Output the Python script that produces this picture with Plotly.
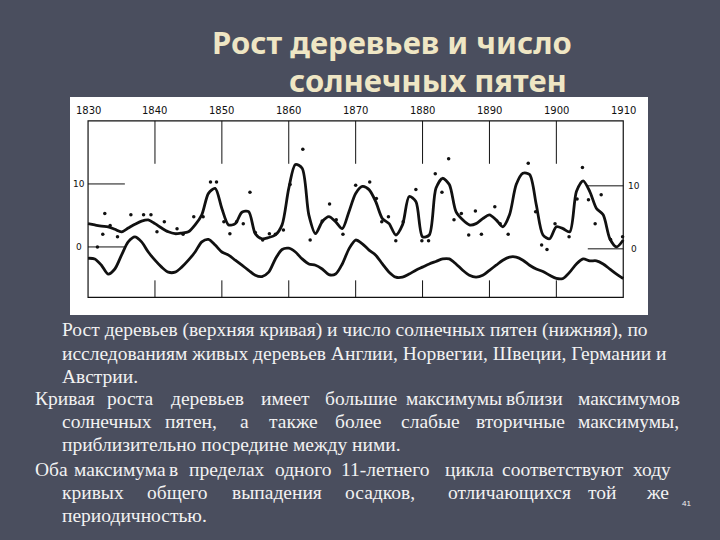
import plotly.graph_objects as go

# tree growth curve (upper) and sunspot curve (lower), yearly readings
years = list(range(1830, 1911))
growth = [3.7, 3.5, 3.3, 3.2, 2.8, 2.4, 3.0, 3.6, 4.1, 4.3, 3.7, 3.0, 2.4, 2.1, 2.2, 2.4,
          3.5, 5.1, 8.5, 9.3, 6.1, 3.5, 3.7, 5.5, 5.6, 2.1, 1.3, 1.5, 1.9, 3.5,
          9.3, 13.1, 12.5, 5.1, 2.1, 4.0, 4.8, 4.0, 2.9, 5.6,
          8.5, 9.6, 9.1, 7.2, 4.5, 3.7, 1.9, 3.5, 8.0, 7.2,
          1.6, 1.9, 9.3, 10.9, 9.9, 5.6, 4.3, 3.5, 3.7, 4.5,
          5.1, 4.3, 3.2, 5.1, 9.9, 11.7, 11.5, 6.7, 1.9, 1.3,
          3.2, 2.9, 2.4, 8.8, 10.5, 8.8, 6.1, 5.1, 1.3, 0.0, 1.1]
sunspots = [-1.8, -1.9, -2.9, -4.3, -3.5, -1.3, 0.8, 1.6, 0.8, -0.8,
            -2.1, -3.2, -4.0, -4.0, -3.2, -2.1, -0.8, 0.8, 1.2, 0.3,
            -0.8, -1.3, -2.1, -2.9, -3.7, -4.5, -4.7, -4.0, -1.9, -0.4,
            -0.2, -0.8, -1.9, -2.7, -2.9, -3.5, -4.4, -4.3, -2.7, -0.3,
            1.1, 0.5, -0.5, -1.3, -2.7, -4.0, -4.8, -4.8, -4.3, -3.7,
            -3.2, -2.7, -2.3, -1.9, -1.9, -2.7, -3.7, -4.5, -4.8, -4.5,
            -3.7, -2.9, -2.1, -1.6, -1.6, -2.1, -2.9, -3.5, -3.9, -4.5,
            -5.0, -5.0, -4.0, -2.7, -1.9, -2.2, -2.2, -2.7, -3.5, -4.3, -5.0]

# individual tree measurements (dots)
dot_years = [1831.4, 1832.2, 1832.5, 1833.3, 1834.4, 1836.4, 1838.3, 1839.4, 1840.3, 1841.4,
             1843.3, 1844.2, 1845.8, 1847.2, 1848.3, 1849.2, 1850.3, 1851.2, 1852.2, 1853.2,
             1854.2, 1855.0, 1856.1, 1857.1, 1858.0, 1859.2, 1860.2, 1862.1, 1863.2, 1865.0,
             1866.1, 1867.1, 1868.1, 1870.0, 1872.1, 1873.1, 1873.9, 1874.9, 1876.0, 1877.1,
             1879.0, 1879.9, 1880.9, 1881.9, 1882.9, 1883.9, 1884.7, 1885.8, 1886.9, 1887.9,
             1888.8, 1890.8, 1891.6, 1892.8, 1895.8, 1896.9, 1897.8, 1898.6, 1899.8, 1901.9,
             1903.1, 1903.9, 1904.8, 1905.8, 1906.7, 1908.1, 1909.9]
dot_vals = [0.0, 2.0, 5.3, 3.4, 1.6, 5.1, 5.1, 5.1, 2.4, 4.0,
            2.9, 2.0, 4.8, 4.8, 10.3, 10.3, 4.0, 2.1, 4.0, 3.7,
            8.7, 2.3, 1.1, 2.1, 2.0, 2.7, 9.9, 15.5, 1.1, 4.1,
            6.8, 4.3, 2.0, 9.8, 10.3, 7.7, 4.0, 4.8, 1.0, 4.0,
            9.1, 1.0, 1.0, 11.6, 8.7, 14.0, 4.3, 5.3, 1.9, 5.7,
            2.0, 6.4, 3.7, 2.0, 13.3, 5.6, 0.3, -0.4, 3.7, 1.6,
            7.6, 12.6, 7.5, 3.7, 8.3, 1.2, 1.6]

decades = list(range(1830, 1911, 10))
level_labels = [10, 0]

bg = "#4a4e5e"
ink = "#111111"

fig = go.Figure()
fig.add_trace(go.Scatter(x=years, y=growth, mode="lines", line=dict(color=ink, width=2.8, shape="spline", smoothing=0.8)))
fig.add_trace(go.Scatter(x=years, y=sunspots, mode="lines", line=dict(color=ink, width=2.8, shape="spline", smoothing=0.8)))
fig.add_trace(go.Scatter(x=dot_years, y=dot_vals, mode="markers", marker=dict(color=ink, size=3.5)))

shapes = [dict(type="rect", xref="x", yref="y", x0=1830, x1=1910, y0=-8, y1=20,
               line=dict(color=ink, width=1.2))]
for d in decades[1:-1]:
    shapes.append(dict(type="line", xref="x", yref="y", x0=d, x1=d, y0=20, y1=13.2, line=dict(color=ink, width=1)))
    shapes.append(dict(type="line", xref="x", yref="y", x0=d, x1=d, y0=-8, y1=-5.3, line=dict(color=ink, width=1)))
for lv in level_labels:
    shapes.append(dict(type="line", xref="x", yref="y", x0=1830, x1=1835.5, y0=lv, y1=lv, line=dict(color=ink, width=1)))
    shapes.append(dict(type="line", xref="x", yref="y", x0=1904.7, x1=1910, y0=lv - 0.3, y1=lv - 0.3, line=dict(color=ink, width=1)))

ann = []
for d in decades:
    ann.append(dict(x=d, y=21.6, xref="x", yref="y", text=str(d), showarrow=False,
                    font=dict(family="DejaVu Sans", size=10, color=ink)))
for lv in level_labels:
    ann.append(dict(x=1828.6, y=lv, xref="x", yref="y", text=str(lv), showarrow=False,
                    font=dict(family="DejaVu Sans", size=9, color=ink)))
    ann.append(dict(x=1911.6, y=lv - 0.3, xref="x", yref="y", text=str(lv), showarrow=False,
                    font=dict(family="DejaVu Sans", size=9, color=ink)))

title_font = dict(family="Noto Sans", size=31, color="#efe6c4")
ann.append(dict(x=392 / 720, y=1 - 42 / 540, xref="paper", yref="paper", text="<b>Рост деревьев и число</b>",
                xanchor="center", yanchor="middle", showarrow=False, font=title_font))
ann.append(dict(x=428 / 720, y=1 - 80 / 540, xref="paper", yref="paper", text="<b>солнечных пятен</b>",
                xanchor="center", yanchor="middle", showarrow=False, font=title_font))

# body text lines: (left x, right x if justified, y, text)
body = [
    (60, None, 330, "Рост деревьев (верхняя кривая) и число солнечных пятен (нижняя), по"),
    (60, None, 353, "исследованиям живых деревьев Англии, Норвегии, Швеции, Германии и"),
    (60, None, 376, "Австрии."),
    (33, 668, 398, "Кривая роста деревьев имеет большие максимумы вблизи максимумов"),
    (60, 668, 421, "солнечных пятен, а также более слабые вторичные максимумы,"),
    (60, None, 444, "приблизительно посредине между ними."),
    (33, 668, 469, "Оба максимума в пределах одного 11-летнего цикла соответствуют ходу"),
    (60, 662, 492, "кривых общего выпадения осадков, отличающихся той же"),
    (60, None, 515, "периодичностью."),
]
body_size = 19.5
char_w = 0.47 * body_size
body_font = dict(family="Liberation Serif, Times New Roman, serif", size=body_size, color="#f2f2f2")
for x0, x1, y0, text in body:
    if x1 is None:
        ann.append(dict(x=x0 / 720, y=1 - y0 / 540, xref="paper", yref="paper", text=text, xanchor="left",
                        yanchor="middle", showarrow=False, font=body_font))
        continue
    words = text.split()
    widths = [len(w) * char_w for w in words]
    gap = (x1 - x0 - sum(widths)) / (len(words) - 1)
    pos = x0
    for w, wd in zip(words, widths):
        ann.append(dict(x=pos / 720, y=1 - y0 / 540, xref="paper", yref="paper", text=w, xanchor="left",
                        yanchor="middle", showarrow=False, font=body_font))
        pos += wd + gap
ann.append(dict(x=686 / 720, y=1 - 503 / 540, xref="paper", yref="paper", text="41", showarrow=False,
                xanchor="center", yanchor="middle", font=dict(family="Liberation Sans", size=8, color="#f2f2f2")))

fig.update_layout(
    width=720, height=540, margin=dict(l=0, r=0, t=0, b=0),
    paper_bgcolor=bg, plot_bgcolor="white", showlegend=False,
    xaxis=dict(domain=[70 / 720, 648 / 720], range=[1827.3, 1913.7], visible=False),
    yaxis=dict(domain=[1 - 315 / 540, 1 - 97 / 540], range=[-10.8, 23.8], visible=False),
    shapes=shapes, annotations=ann,
)
fig.write_html("out.html", config={"displayModeBar": False},
               post_script="document.body.style.margin='0';")
